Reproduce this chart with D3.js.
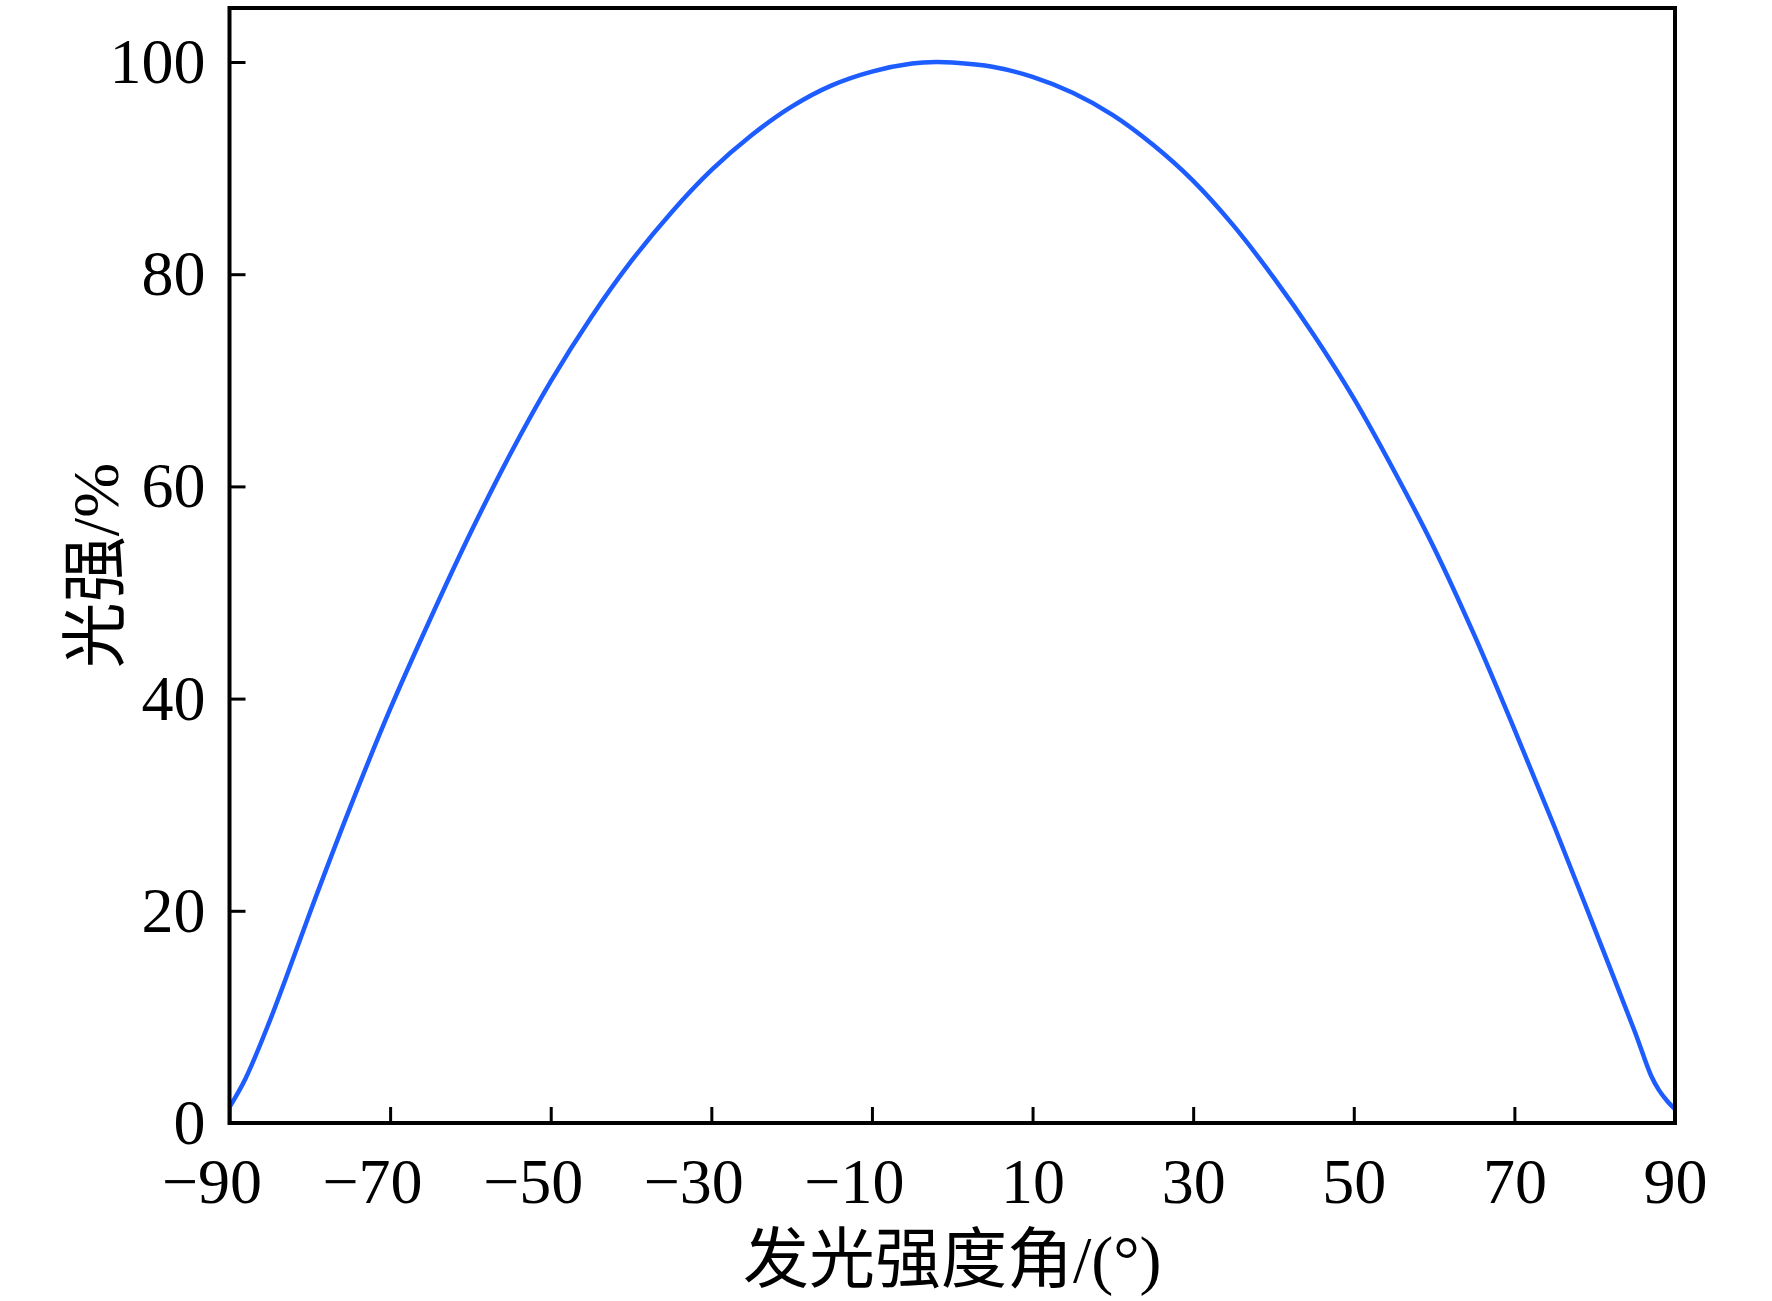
<!DOCTYPE html>
<html>
<head>
<meta charset="utf-8">
<script src="https://cdn.jsdelivr.net/npm/d3@7"></script>
<style>
  body { margin: 0; background: #fff; }
  text { font-family: "Liberation Serif", "Times New Roman", "Noto Sans CJK SC", serif; fill: #000; }
</style>
</head>
<body>
<svg id="chart"></svg>
<script>
// angle (deg) and relative luminous intensity (%)
const angles = [-90, -88, -85, -83, -80, -75, -70, -65, -60, -55, -50, -45, -40, -35, -30, -25, -20, -15, -10, -5, -2, 0,
                5, 10, 15, 20, 25, 30, 35, 40, 45, 50, 55, 60, 65, 70, 75, 80, 85, 87, 88, 89, 90];
const intensity = [1.5, 4.2, 9.6, 13.6, 19.8, 29.7, 39.0, 47.5, 55.6, 63.1, 69.9, 75.9, 81.2, 85.8, 89.8, 93.1, 95.8, 97.8, 99.1, 99.85, 100, 99.95,
                   99.55, 98.6, 97.1, 95.0, 92.2, 88.8, 84.6, 79.7, 74.3, 68.3, 61.5, 54.2, 46.0, 37.1, 27.9, 18.3, 8.6, 4.5, 3.1, 2.1, 1.3];
const xTicks = [-90, -70, -50, -30, -10, 10, 30, 50, 70, 90];
const yTicks = [0, 20, 40, 60, 80, 100];
const xTitle = "发光强度角/(°)";
const yTitle = "光强/%";

const W = 1772, H = 1301;
const plotL = 229.5, plotR = 1675, plotT = 8, plotB = 1123;

const svg = d3.select("#chart").attr("width", W).attr("height", H);

const x = d3.scaleLinear().domain([-90, 90]).range([plotL, plotR]);
// 100% sits at y=62, 0% on the bottom frame
const y = d3.scaleLinear().domain([0, 100]).range([plotB, 62]);

const data = angles.map((a, i) => ({ a: a, v: intensity[i] }));

// curve
svg.append("path")
   .datum(data)
   .attr("fill", "none")
   .attr("stroke", "#1d5cff")
   .attr("stroke-width", 4.5)
   .attr("stroke-linejoin", "round")
   .attr("d", d3.line().x(d => x(d.a)).y(d => y(d.v)).curve(d3.curveCatmullRom.alpha(0.5)));

// axes with inward ticks
const xAxis = d3.axisBottom(x)
                .tickValues(xTicks)
                .tickSizeInner(-16)
                .tickSizeOuter(0)
                .tickPadding(35)
                .tickFormat(d => (d < 0 ? "\u2212" : "") + Math.abs(d));

const gx = svg.append("g")
   .attr("transform", `translate(0, ${plotB})`)
   .call(xAxis);

gx.select(".domain").remove();
gx.selectAll(".tick line").attr("stroke", "#000").attr("stroke-width", 3);
gx.selectAll(".tick text")
  .attr("font-size", 64)
  .attr("text-anchor", d => d < 0 ? "end" : "middle")
  .attr("dx", d => d < 0 ? "0.5em" : 0);

const yAxis = d3.axisLeft(y)
                .tickValues(yTicks)
                .tickSizeInner(-16)
                .tickSizeOuter(0)
                .tickPadding(24);

const gy = svg.append("g")
   .attr("transform", `translate(${plotL}, 0)`)
   .call(yAxis);

gy.select(".domain").remove();
gy.selectAll(".tick line").attr("stroke", "#000").attr("stroke-width", 3);
gy.selectAll(".tick text").attr("font-size", 64);

// frame
svg.append("rect")
   .attr("x", plotL)
   .attr("y", plotT)
   .attr("width", plotR - plotL)
   .attr("height", plotB - plotT)
   .attr("fill", "none")
   .attr("stroke", "#000")
   .attr("stroke-width", 4);

// titles
svg.append("text")
   .attr("x", (plotL + plotR) / 2)
   .attr("y", 1282)
   .attr("text-anchor", "middle")
   .attr("font-size", 66)
   .text(xTitle);

svg.append("text")
   .attr("transform", `translate(118, ${(plotT + plotB) / 2}) rotate(-90)`)
   .attr("text-anchor", "middle")
   .attr("font-size", 66)
   .text(yTitle);
</script>
</body>
</html>
